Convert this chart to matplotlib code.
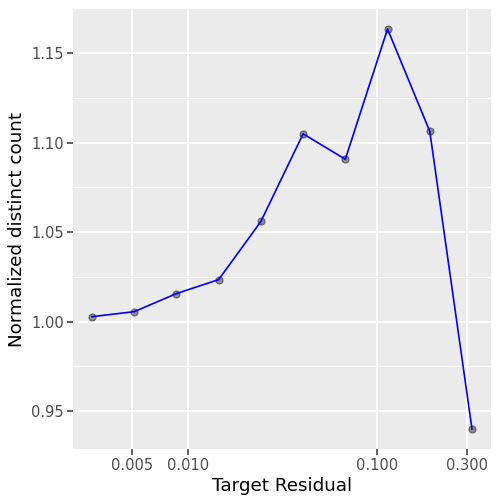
import matplotlib.pyplot as plt
from matplotlib.ticker import FixedLocator, FixedFormatter, NullLocator

# data
target_residual = [0.00308, 0.00516, 0.00864, 0.01447, 0.02424, 0.0406, 0.068, 0.1139, 0.1908, 0.3196]
norm_count = [1.0028, 1.0056, 1.0157, 1.0235, 1.0560, 1.1050, 1.0908, 1.1636, 1.1064, 0.9400]

x_ticks = [0.005, 0.010, 0.100, 0.300]
x_labels = ["0.005", "0.010", "0.100", "0.300"]
y_ticks = [0.95, 1.00, 1.05, 1.10, 1.15]
y_minor = [0.975, 1.025, 1.075, 1.125]

fig = plt.figure(figsize=(5, 5), dpi=100)
ax = fig.add_axes([0.146, 0.102, 0.836, 0.880])
ax.set_facecolor("#EBEBEB")
for s in ax.spines.values():
    s.set_visible(False)

ax.scatter(target_residual, norm_count, s=26, facecolor=(0, 0, 0, 0.4),
           edgecolor=(0, 0, 0, 0.45), linewidths=0.8, zorder=3)
ax.plot(target_residual, norm_count, color="blue", lw=1.2, zorder=4)

ax.set_xscale("log")
ax.margins(x=0.05, y=0.05)

ax.xaxis.set_major_locator(FixedLocator(x_ticks))
ax.xaxis.set_major_formatter(FixedFormatter(x_labels))
ax.xaxis.set_minor_locator(NullLocator())
ax.yaxis.set_major_locator(FixedLocator(y_ticks))
ax.yaxis.set_major_formatter(FixedFormatter(["%.2f" % v for v in y_ticks]))
ax.yaxis.set_minor_locator(FixedLocator(y_minor))

ax.grid(which="major", color="white", lw=1.5)
ax.grid(which="minor", axis="y", color="white", lw=0.8)
ax.set_axisbelow(True)

ax.tick_params(which="major", length=4, width=1.1, color="#333333",
               labelcolor="#4D4D4D", labelsize=10.5, pad=2.5)
ax.tick_params(which="minor", length=0)

ax.set_xlabel("Target Residual", fontsize=13.2, labelpad=3)
ax.set_ylabel("Normalized distinct count", fontsize=13.2, labelpad=4)

plt.savefig("out.png", dpi=100)
